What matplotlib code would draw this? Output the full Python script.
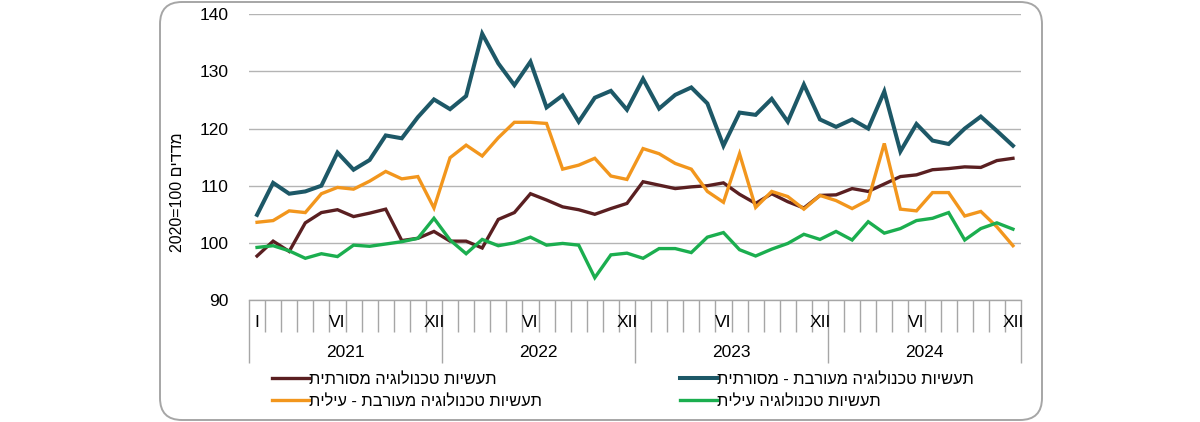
import matplotlib
matplotlib.use("Agg")
import matplotlib.pyplot as plt
from matplotlib.patches import FancyBboxPatch
from matplotlib.transforms import blended_transform_factory, offset_copy

plt.rcParams["font.family"] = ["Liberation Sans", "DejaVu Sans"]

YEARS = ["2021", "2022", "2023", "2024"]
MONTHS = ["I", "II", "III", "IV", "V", "VI", "VII", "VIII", "IX", "X", "XI", "XII"]

traditional = [97.7, 100.3, 98.5, 103.5, 105.3, 105.8, 104.6, 105.2, 105.9, 100.4, 100.8, 102.0,
               100.3, 100.3, 99.1, 104.1, 105.3, 108.6, 107.5, 106.3, 105.8, 105.0, 106.0, 106.9,
               110.7, 110.1, 109.5, 109.8, 110.0, 110.5, 108.5, 106.9, 108.6, 107.2, 106.1, 108.3,
               108.4, 109.5, 109.0, 110.3, 111.6, 111.9, 112.8, 113.0, 113.3, 113.2, 114.4, 114.8]
mixed_traditional = [104.9, 110.5, 108.6, 109.0, 110.0, 115.8, 112.8, 114.5, 118.8, 118.3, 122.0, 125.1,
                     123.4, 125.7, 136.6, 131.4, 127.6, 131.7, 123.7, 125.8, 121.2, 125.4, 126.6, 123.3,
                     128.7, 123.5, 125.9, 127.2, 124.4, 117.0, 122.8, 122.4, 125.2, 121.2, 127.7, 121.6,
                     120.3, 121.6, 120.0, 126.5, 116.0, 120.8, 117.9, 117.3, 120.0, 122.1, 119.6, 117.0]
mixed_high = [103.6, 103.9, 105.6, 105.3, 108.6, 109.7, 109.4, 110.8, 112.5, 111.2, 111.6, 106.1,
              114.9, 117.1, 115.2, 118.4, 121.1, 121.1, 120.9, 112.9, 113.6, 114.8, 111.7, 111.1,
              116.5, 115.6, 113.9, 112.9, 109.0, 107.1, 115.6, 106.2, 109.0, 108.1, 105.9, 108.3,
              107.4, 106.0, 107.5, 117.4, 105.9, 105.6, 108.8, 108.8, 104.7, 105.5, 102.8, 99.5]
high_tech = [99.2, 99.5, 98.6, 97.3, 98.1, 97.6, 99.6, 99.4, 99.8, 100.2, 100.8, 104.3,
             100.5, 98.1, 100.6, 99.5, 100.0, 101.0, 99.6, 99.9, 99.6, 93.9, 97.9, 98.2,
             97.3, 99.0, 99.0, 98.3, 101.0, 101.8, 98.8, 97.7, 98.9, 99.9, 101.5, 100.6,
             102.0, 100.5, 103.7, 101.7, 102.5, 103.9, 104.3, 105.3, 100.5, 102.5, 103.5, 102.4]

LABELS = [
    "תעשיות טכנולוגיה מסורתית",
    "תעשיות טכנולוגיה מעורבת - מסורתית",
    "תעשיות טכנולוגיה מעורבת - עילית",
    "תעשיות טכנולוגיה עילית",
]
YLABEL_HE = "מדדים"
COLORS = ["#5a1f21", "#1d5867", "#f2961d", "#1bae4f"]


def rtl(s):
    # matplotlib has no bidi support, so hand it the visual order
    return s[::-1]


W, H = 1200, 422
fig = plt.figure(figsize=(W / 100, H / 100), dpi=100)

# rounded frame around the whole chart, drawn in pixel units
bg = fig.add_axes([0, 0, 1, 1], zorder=-1)
bg.set_xlim(0, W)
bg.set_ylim(H, 0)
bg.axis("off")
bg.add_patch(FancyBboxPatch((170, 12), 862, 398, boxstyle="round,pad=10,rounding_size=22",
                            linewidth=1.4, edgecolor="#a6a6a6", facecolor="white"))

left, right, top, bottom = 249, 1021, 14.3, 300
ax = fig.add_axes([left / W, 1 - bottom / H, (right - left) / W, (bottom - top) / H])
ax.patch.set_alpha(0)

x = list(range(len(traditional)))
series = [traditional, mixed_traditional, mixed_high, high_tech]
widths = [2.4, 2.9, 2.4, 2.4]
lines = []
for vals, c, lw, lab in zip(series, COLORS, widths, LABELS):
    ln, = ax.plot(x, vals, color=c, lw=lw, solid_joinstyle="miter", label=rtl(lab))
    lines.append(ln)

ax.set_xlim(-0.5, len(x) - 0.5)
ax.set_ylim(90, 140)
ax.set_yticks(range(90, 141, 10))
ax.yaxis.grid(True, color="#b4b4b4", lw=1.0)
ax.set_axisbelow(True)
ax.tick_params(axis="y", length=0, pad=15, labelsize=12.5)
for s in ["top", "left", "right"]:
    ax.spines[s].set_visible(False)
ax.spines["bottom"].set_color("#a6a6a6")
ax.spines["bottom"].set_linewidth(1.0)

# category axis: short ticks between months, long ticks between years
year_bounds = [i * 12 - 0.5 for i in range(len(YEARS) + 1)]
month_bounds = [i - 0.5 for i in range(len(x) + 1) if i % 12 != 0]
ax.set_xticks(year_bounds)
ax.set_xticks(month_bounds, minor=True)
ax.set_xticklabels([])
ax.tick_params(axis="x", which="major", length=45, width=1.0, color="#a6a6a6", direction="out")
ax.tick_params(axis="x", which="minor", length=23, width=1.0, color="#a6a6a6", direction="out")

tr = blended_transform_factory(ax.transData, ax.transAxes)
for i in x:
    m = i % 12
    if i == 0 or m == 5 or m == 11:
        ax.text(i, 0, MONTHS[m], transform=offset_copy(tr, fig=fig, y=-16, units="points"),
                ha="center", va="center", fontsize=12.5)
for k, yr in enumerate(YEARS):
    ax.text(k * 12 + 5.5, 0, yr, transform=offset_copy(tr, fig=fig, y=-37.5, units="points"),
            ha="center", va="center", fontsize=12.5)

fig.text(178 / W, 1 - 192 / H, "2020=100 " + rtl(YLABEL_HE), rotation=90,
         ha="center", va="center", fontsize=11.5)

legend_kw = dict(frameon=False, fontsize=11.8, handlelength=2.25, handletextpad=0.0,
                 labelspacing=0.42, borderpad=0, borderaxespad=0, loc="center left")
fig.legend([lines[0], lines[2]], [lines[0].get_label(), lines[2].get_label()],
           bbox_to_anchor=(272 / W, 1 - 390.5 / H), **legend_kw)
fig.legend([lines[1], lines[3]], [lines[1].get_label(), lines[3].get_label()],
           bbox_to_anchor=(680 / W, 1 - 390.5 / H), **legend_kw)

fig.savefig("out.png", dpi=100)
